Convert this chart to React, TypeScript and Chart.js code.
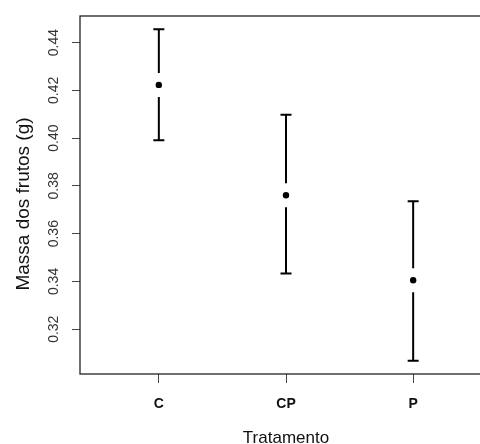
import React, { useEffect, useRef } from "react";
import { Chart, registerables } from "chart.js";

Chart.register(...registerables);

// ---- data ----
const categories = ["C", "CP", "P"];
const categoryPositions = [1, 2, 3];
const means = [0.4223, 0.3761, 0.3405];
const upper = [0.4456, 0.4098, 0.3736];
const lower = [0.3991, 0.3433, 0.3068];
const yTicks = [0.32, 0.34, 0.36, 0.38, 0.4, 0.42, 0.44];
const xLimits = [0.5, 3.5];
const xTitle = "Tratamento";
const yTitle = "Massa dos frutos (g)";

const FONT = "'Liberation Sans', Arial, Helvetica, sans-serif";

// R-style 4% axis expansion
const yLo = Math.min(...lower);
const yHi = Math.max(...upper);
const yPad = (yHi - yLo) * 0.04;
const xPad = (xLimits[1] - xLimits[0]) * 0.04;

const errorBarPlugin = {
  id: "errorBars",
  afterDatasetsDraw(chart: any) {
    const { ctx } = chart;
    const xs = chart.scales.x;
    const ys = chart.scales.y;
    const gap = 12;
    const cap = 5.5;
    ctx.save();
    ctx.strokeStyle = "#000";
    ctx.lineWidth = 2;
    ctx.lineCap = "butt";
    for (let i = 0; i < means.length; i++) {
      const px = xs.getPixelForValue(categoryPositions[i]);
      const pu = ys.getPixelForValue(upper[i]);
      const pm = ys.getPixelForValue(means[i]);
      const pl = ys.getPixelForValue(lower[i]);
      ctx.beginPath();
      ctx.moveTo(px, pu);
      ctx.lineTo(px, pm - gap);
      ctx.moveTo(px, pm + gap);
      ctx.lineTo(px, pl);
      ctx.moveTo(px - cap, pu);
      ctx.lineTo(px + cap, pu);
      ctx.moveTo(px - cap, pl);
      ctx.lineTo(px + cap, pl);
      ctx.stroke();
    }
    ctx.restore();
  },
};

const framePlugin = {
  id: "frame",
  afterDraw(chart: any) {
    const { ctx, chartArea } = chart;
    ctx.save();
    ctx.strokeStyle = "#222";
    ctx.lineWidth = 1.3;
    ctx.strokeRect(
      chartArea.left,
      chartArea.top,
      chartArea.right - chartArea.left,
      chartArea.bottom - chartArea.top
    );
    // y-axis title
    ctx.translate(chartArea.left - 56, (chartArea.top + chartArea.bottom) / 2 + 9);
    ctx.rotate(-Math.PI / 2);
    ctx.font = `19px ${FONT}`;
    ctx.fillStyle = "#111";
    ctx.textAlign = "center";
    ctx.textBaseline = "middle";
    ctx.fillText(yTitle, 0, 0);
    ctx.restore();
  },
};

export default function App() {
  const canvasRef = useRef<HTMLCanvasElement | null>(null);

  useEffect(() => {
    const canvas = canvasRef.current;
    if (!canvas) return;
    const chart = new Chart(canvas, {
      type: "scatter",
      data: {
        datasets: [
          {
            data: means.map((m, i) => ({ x: categoryPositions[i], y: m })),
            pointRadius: 3.2,
            pointBackgroundColor: "#000",
            pointBorderWidth: 0,
            showLine: false,
          },
        ],
      },
      options: {
        responsive: false,
        animation: false,
        devicePixelRatio: 1,
        layout: { padding: { top: 16, right: 8, left: 0, bottom: 0 } },
        plugins: {
          legend: { display: false },
          tooltip: { enabled: false },
        },
        scales: {
          x: {
            type: "linear",
            min: xLimits[0] - xPad,
            max: xLimits[1] + xPad,
            afterBuildTicks: (s: any) => {
              s.ticks = categoryPositions.map((v) => ({ value: v }));
            },
            afterFit: (s: any) => {
              s.height = 70;
            },
            grid: {
              display: true,
              drawOnChartArea: false,
              drawTicks: true,
              tickLength: 9,
              color: "#444",
              lineWidth: 1,
            },
            border: { display: false },
            ticks: {
              autoSkip: false,
              maxRotation: 0,
              minRotation: 0,
              padding: 13,
              color: "#111",
              font: { family: FONT, size: 14, weight: "bold" },
              callback: (v: any) => categories[categoryPositions.indexOf(Number(v))] ?? "",
            },
            title: {
              display: true,
              text: xTitle,
              color: "#111",
              font: { family: FONT, size: 17, lineHeight: 1 },
              padding: { top: 0, bottom: -3 },
            },
          },
          y: {
            type: "linear",
            min: yLo - yPad,
            max: yHi + yPad,
            afterBuildTicks: (s: any) => {
              s.ticks = yTicks.map((v) => ({ value: v }));
            },
            afterFit: (s: any) => {
              s.width = 80;
            },
            grid: {
              display: true,
              drawOnChartArea: false,
              drawTicks: true,
              tickLength: 8,
              color: "#444",
              lineWidth: 1,
            },
            border: { display: false },
            ticks: {
              autoSkip: false,
              minRotation: 90,
              maxRotation: 90,
              crossAlign: "center",
              padding: 4,
              color: "#333",
              font: { family: FONT, size: 14 },
              callback: (v: any) => Number(v).toFixed(2),
            },
            title: { display: false },
          },
        },
      },
      plugins: [errorBarPlugin, framePlugin],
    } as any);
    return () => chart.destroy();
  }, []);

  return (
    <div
      style={{
        position: "fixed",
        left: 0,
        top: 0,
        width: 480,
        height: 444,
        overflow: "hidden",
        background: "#fff",
      }}
    >
      <canvas ref={canvasRef} width={500} height={444} style={{ display: "block" }} />
    </div>
  );
}
